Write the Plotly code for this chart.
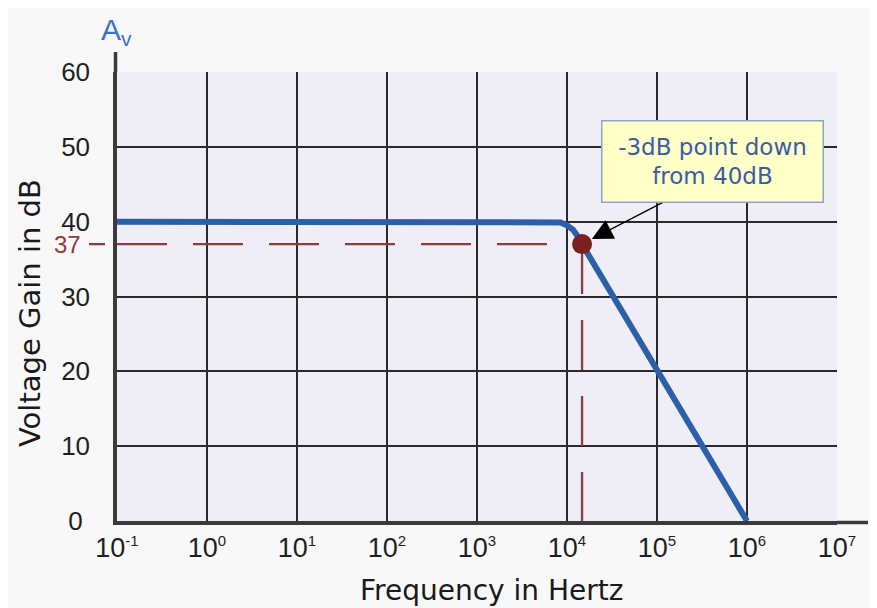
import numpy as np
import plotly.graph_objects as go

# ---- data ----
freq_hz = [0.1, 6900, 8500, 10000, 11700, 13200, 14700, 1e6]
gain_db = [40, 40, 39.9, 39.5, 38.9, 38.0, 37, 0]

cutoff_freq = 14700
cutoff_gain = 37
floor_gain = 0

x_tick_vals = [0.1, 1, 10, 100, 1e3, 1e4, 1e5, 1e6, 1e7]
x_tick_exps = ["-1", "0", "1", "2", "3", "4", "5", "6", "7"]
y_tick_vals = [0, 10, 20, 30, 40, 50, 60]
y_tick_text = ["0\u00a0", "10", "20", "30", "40", "50", "60"]

x_tick_text = [f"10<sup><span style='font-size:15px'>{e}</span></sup>" for e in x_tick_exps]

BLUE = "#2D5FA8"
RED = "#8E3B3B"
DOT = "#7A2020"

fig = go.Figure()

fig.add_trace(go.Scatter(
    x=[x_tick_vals[0], cutoff_freq], y=[cutoff_gain, cutoff_gain],
    mode="lines", line=dict(color=RED, width=2.3, dash="50px,26px"),
    hoverinfo="skip"))
fig.add_trace(go.Scatter(
    x=[cutoff_freq, cutoff_freq], y=[cutoff_gain, floor_gain],
    mode="lines", line=dict(color=RED, width=2.3, dash="50px,26px"),
    hoverinfo="skip"))
fig.add_trace(go.Scatter(
    x=freq_hz, y=gain_db, mode="lines",
    line=dict(color=BLUE, width=6), cliponaxis=False, hoverinfo="skip"))
fig.add_trace(go.Scatter(
    x=[cutoff_freq], y=[cutoff_gain], mode="markers",
    marker=dict(color=DOT, size=20, line=dict(width=0)),
    cliponaxis=False, hoverinfo="skip"))

# page offset of the figure (browser body margin)
OFF = 8
W, H = 869, 600
L, T = 117 - OFF, 72 - OFF
R, B = W - (837 - OFF), H - (521 - OFF)
PW, PH = W - L - R, H - T - B


def px(page_x):
    return (page_x - OFF - L) / PW


def py(page_y):
    return (H - B - (page_y - OFF)) / PH


shapes = [
    # axis extensions
    dict(type="line", xref="paper", yref="paper", x0=px(117 - 1.5), x1=px(117 - 1.5), y0=1, y1=py(52),
         line=dict(color="#3a3a3a", width=3.5)),
    dict(type="line", xref="paper", yref="paper", x0=1, x1=px(868), y0=py(521 + 1.5), y1=py(521 + 1.5),
         line=dict(color="#3a3a3a", width=3.5)),
    # short tick dash for 37
    dict(type="line", xref="paper", yref="y", x0=px(89), x1=px(105), y0=cutoff_gain, y1=cutoff_gain,
         line=dict(color=RED, width=2.3)),
]

annotations = [
    dict(x=np.log10(cutoff_freq), y=cutoff_gain, xref="x", yref="y", text="",
         showarrow=True, ax=91, ay=-47, arrowhead=2, arrowsize=3.2, arrowwidth=1.3,
         arrowcolor="black", standoff=11),
    dict(x=px(712), y=py(161), xref="paper", yref="paper",
         text="-3dB point down<br>from 40dB", showarrow=False,
         font=dict(family="DejaVu Sans", size=23, color="#3B5BAA"),
         bgcolor="#FFFFC8", bordercolor="#8EA4CC", borderwidth=1.5, borderpad=3,
         width=214, height=74, xanchor="center", yanchor="middle"),
    dict(x=px(83), y=cutoff_gain, xref="paper", yref="y", text=str(cutoff_gain),
         showarrow=False, xanchor="right", yanchor="middle",
         font=dict(family="Liberation Sans", size=24, color=RED)),
    dict(x=px(491), y=py(590), xref="paper", yref="paper", text="Frequency in Hertz",
         showarrow=False, xanchor="center", yanchor="middle",
         font=dict(family="DejaVu Sans", size=28, color="#1a1a1a")),
    dict(x=px(30), y=py(313), xref="paper", yref="paper", text="Voltage Gain in dB",
         showarrow=False, xanchor="center", yanchor="middle", textangle=-90,
         font=dict(family="DejaVu Sans", size=29, color="#1a1a1a")),
    dict(x=px(116), y=py(31), xref="paper", yref="paper", text="A<sub>v</sub>",
         showarrow=False, xanchor="center", yanchor="middle",
         font=dict(family="Liberation Sans", size=30, color="#3D6FD1")),
]

fig.update_layout(
    width=W, height=H,
    margin=dict(l=L, r=R, t=T, b=B, pad=0),
    paper_bgcolor="#F8F8F8",
    plot_bgcolor="#EFEDF6",
    showlegend=False,
    hovermode=False,
    shapes=shapes,
    annotations=annotations,
    xaxis=dict(
        type="log", range=[-1, 7], tickvals=x_tick_vals, ticktext=x_tick_text,
        showgrid=True, gridcolor="#2a2a2a", gridwidth=2,
        showline=True, linecolor="#3a3a3a", linewidth=3.5,
        ticks="", zeroline=False, ticklabelstandoff=0,
        tickfont=dict(family="Liberation Sans", size=27, color="#1f1f1f"),
    ),
    yaxis=dict(
        range=[0, 60], tickvals=y_tick_vals, ticktext=y_tick_text,
        showgrid=True, gridcolor="#2a2a2a", gridwidth=2,
        showline=True, linecolor="#3a3a3a", linewidth=3.5,
        ticks="", zeroline=False, ticklabelstandoff=18,
        tickfont=dict(family="Liberation Sans", size=26, color="#1f1f1f"),
    ),
)

fig.write_html("out.html")
